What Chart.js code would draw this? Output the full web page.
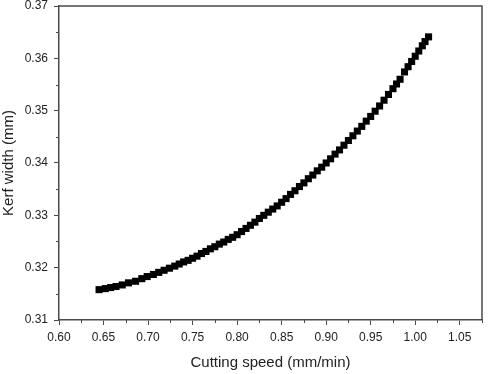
<!DOCTYPE html>
<html>
<head>
<meta charset="utf-8">
<script src="https://cdn.jsdelivr.net/npm/chart.js@4/dist/chart.umd.min.js"></script>
<style>
html,body{margin:0;padding:0;background:#fff;}
#wrap{width:489px;height:374px;}
</style>
</head>
<body>
<div id="wrap"><canvas id="c" width="489" height="374"></canvas></div>
<script>
const cuttingSpeed = [
  0.645,0.652,0.658,0.664,0.671,0.678,0.686,0.693,0.699,
  0.706,0.712,0.718,0.724,0.730,0.735,0.740,0.745,0.750,
  0.755,0.760,0.765,0.770,0.775,0.780,0.785,0.790,0.795,0.800,
  0.805,0.810,0.815,0.820,0.825,0.830,0.835,0.840,0.845,0.850,
  0.855,0.860,0.865,0.870,0.875,0.880,0.885,0.890,0.895,0.900,
  0.905,0.910,0.915,0.920,0.925,0.930,0.935,0.940,0.945,0.950,
  0.955,0.960,0.965,0.970,0.975,0.979,0.983,
  0.988,0.992,0.996,1.000,1.004,1.008,1.011,1.015
];
const kerfWidth = [
  0.3158,0.3160,0.3162,0.3164,0.3167,0.3171,0.3174,0.3179,0.3183,
  0.3187,0.3191,0.3195,0.3199,0.3203,0.3207,0.3211,0.3214,0.3218,
  0.3222,0.3227,0.3231,0.3236,0.3240,0.3245,0.3249,0.3254,0.3258,0.3263,
  0.3269,0.3275,0.3281,0.3287,0.3294,0.3300,0.3306,0.3312,0.3318,0.3325,
  0.3332,0.3340,0.3347,0.3355,0.3362,0.3370,0.3377,0.3385,0.3392,0.3400,
  0.3408,0.3417,0.3425,0.3434,0.3443,0.3452,0.3461,0.3470,0.3480,0.3489,
  0.3499,0.3509,0.3520,0.3531,0.3542,0.3551,0.3560,
  0.3574,0.3584,0.3594,0.3604,0.3614,0.3624,0.3632,0.3641
];
const xMajorTicks = [0.60,0.65,0.70,0.75,0.80,0.85,0.90,0.95,1.00,1.05];
const xMinorTicks = [0.625,0.675,0.725,0.775,0.825,0.875,0.925,0.975,1.025,1.075];
const yMajorTicks = [0.31,0.32,0.33,0.34,0.35,0.36,0.37];
const yMinorTicks = [0.315,0.325,0.335,0.345,0.355,0.365];

const axisColor = '#4a4a4a';
const textColor = '#222';

const framePlugin = {
  id: 'frame',
  afterDraw(chart) {
    const ctx = chart.ctx;
    const a = chart.chartArea;
    const xs = chart.scales.x, ys = chart.scales.y;
    ctx.save();
    ctx.strokeStyle = axisColor;
    ctx.lineWidth = 1.5;
    ctx.beginPath();
    ctx.moveTo(a.left, a.top);
    ctx.lineTo(a.right, a.top);
    ctx.lineTo(a.right, a.bottom);
    ctx.stroke();
    ctx.lineWidth = 1;
    ctx.beginPath();
    xMinorTicks.forEach(v => {
      const px = Math.round(xs.getPixelForValue(v)) + 0.5;
      ctx.moveTo(px, a.bottom);
      ctx.lineTo(px, a.bottom + 3);
    });
    yMinorTicks.forEach(v => {
      const py = Math.round(ys.getPixelForValue(v)) + 0.5;
      ctx.moveTo(a.left - 3, py);
      ctx.lineTo(a.left, py);
    });
    ctx.stroke();
    ctx.restore();
  }
};

new Chart(document.getElementById('c'), {
  type: 'scatter',
  data: {
    datasets: [{
      data: cuttingSpeed.map((x, i) => ({x: x, y: kerfWidth[i]})),
      pointStyle: 'rect',
      pointRadius: 5,
      backgroundColor: '#000',
      borderColor: '#000',
      borderWidth: 0
    }]
  },
  options: {
    responsive: false,
    animation: false,
    devicePixelRatio: 1,
    layout: {padding: {top: 6, right: 7, left: 0, bottom: 0}},
    plugins: {legend: {display: false}, tooltip: {enabled: false}},
    scales: {
      x: {
        type: 'linear',
        min: 0.60, max: 1.075,
        afterBuildTicks(s) { s.ticks = xMajorTicks.map(v => ({value: v})); },
        afterFit(s) { s.height = 54; s.paddingRight = 0; s.paddingLeft = 0; },
        border: {color: axisColor, width: 1.5},
        grid: {display: true, drawOnChartArea: false, tickLength: 5, color: axisColor, lineWidth: 1},
        ticks: {
          padding: 5,
          color: textColor,
          font: {family: 'Liberation Sans', size: 12},
          callback: v => Number(v).toFixed(2),
          maxRotation: 0, autoSkip: false
        },
        title: {
          display: true, text: 'Cutting speed (mm/min)',
          color: textColor,
          font: {family: 'Liberation Sans', size: 15},
          padding: {top: 0, bottom: 2}
        }
      },
      y: {
        type: 'linear',
        min: 0.31, max: 0.37,
        afterBuildTicks(s) { s.ticks = yMajorTicks.map(v => ({value: v})); },
        afterFit(s) { s.width = 59; s.paddingTop = 0; s.paddingBottom = 0; },
        border: {color: axisColor, width: 1.5},
        grid: {display: true, drawOnChartArea: false, tickLength: 5, color: axisColor, lineWidth: 1},
        ticks: {
          padding: 6,
          color: textColor,
          font: {family: 'Liberation Sans', size: 12},
          callback: v => Number(v).toFixed(2)
        },
        title: {
          display: true, text: 'Kerf width (mm)',
          color: textColor,
          font: {family: 'Liberation Sans', size: 15},
          padding: {top: 0, bottom: 0}
        }
      }
    }
  },
  plugins: [framePlugin]
});
</script>
</body>
</html>
